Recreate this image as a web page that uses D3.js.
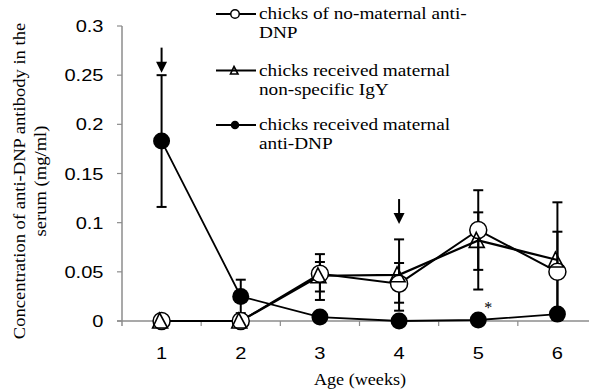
<!DOCTYPE html>
<html><head><meta charset="utf-8">
<script src="https://cdn.jsdelivr.net/npm/d3@7"></script>
<style>html,body{margin:0;padding:0;background:#fff;}svg{display:block;}</style>
</head><body>
<svg id="chart" width="589" height="389"></svg>
<script>
const weeks = ["1","2","3","4","5","6"];
const yTicks = [0,0.05,0.1,0.15,0.2,0.25,0.3];
const yTickLabels = ["0","0.05","0.1","0.15","0.2","0.25","0.3"];
const noMaternal   = [0,0,0.048,0.038,0.0925,0.050];
const noMaternalLo = [0,0,0.0214,0.0186,0.052,0.009];
const noMaternalHi = [0,0,0.068,0.059,0.133,0.0908];
const nonSpecific   = [0,0,0.046,0.047,0.082,0.062];
const nonSpecificLo = [0,0,0.030,0.0105,0.032,0.004];
const nonSpecificHi = [0,0,0.060,0.083,0.1105,0.1207];
const antiDNP   = [0.183,0.025,0.004,0,0.001,0.007];
const antiDNPLo = [0.116,0.008,0.002,0,0,0.003];
const antiDNPHi = [0.25,0.042,0.006,0.003,0.002,0.010];
const arrowWeeks = ["1","4"];
const arrowValues = [0.278,0.124];
const legendLabels = [["chicks of no-maternal anti-","DNP"],["chicks received maternal","non-specific IgY"],["chicks received maternal","anti-DNP"]];

const svg = d3.select("#chart");
const x = d3.scalePoint().domain(weeks).range([122,597]).padding(0.5);
const y = d3.scaleLinear().domain([0,0.3]).range([321,26]);
const SANS = "'Liberation Sans', Arial, sans-serif";
const SERIF = "'Liberation Serif', 'Times New Roman', serif";

function stext(parent, px, py, str, o) {
  const g = parent.append("g").attr("transform", `translate(${px},${py}) ${o.rot?`rotate(${o.rot})`:""} scale(${o.sx||1},${o.sy||1})`);
  return g.append("text").attr("x",0).attr("y",0)
    .attr("font-family", o.font).attr("font-size", o.size).attr("font-weight","normal")
    .attr("text-anchor", o.anchor||"start").attr("fill","#000").text(str);
}

const grey = "#8c8c8c";
svg.append("line").attr("x1",122).attr("x2",122).attr("y1",y(0.3)).attr("y2",326).attr("stroke",grey).attr("stroke-width",1.5);
svg.append("line").attr("x1",117).attr("x2",589).attr("y1",y(0)).attr("y2",y(0)).attr("stroke",grey).attr("stroke-width",1.5);
yTicks.forEach((t,i)=>{
  svg.append("line").attr("x1",117).attr("x2",122).attr("y1",y(t)).attr("y2",y(t)).attr("stroke",grey).attr("stroke-width",1.2);
  stext(svg,103.5,y(t)+6,yTickLabels[i],{font:SANS,size:17,anchor:"end",sx:1.18});
});
const bw = x.step();
weeks.forEach((w,i)=>{
  if(i>0) svg.append("line").attr("x1",x(w)-bw/2).attr("x2",x(w)-bw/2).attr("y1",y(0)).attr("y2",326).attr("stroke",grey).attr("stroke-width",1.2);
  stext(svg,x(w),358.5,w,{font:SANS,size:17,anchor:"middle",sx:1.18});
});
stext(svg,360,385,"Age (weeks)",{font:SERIF,size:16.5,anchor:"middle",sx:1.1});
stext(svg,25,181,"Concentration of anti-DNP antibody in the",{font:SERIF,size:17.2,anchor:"middle",rot:-90,sx:1.08});
stext(svg,46,181,"serum (mg/ml)",{font:SERIF,size:17.2,anchor:"middle",rot:-90,sx:1.08});

const series = [
  {v:noMaternal, lo:noMaternalLo, hi:noMaternalHi, kind:"open", lw:2},
  {v:nonSpecific, lo:nonSpecificLo, hi:nonSpecificHi, kind:"tri", lw:2.2},
  {v:antiDNP, lo:antiDNPLo, hi:antiDNPHi, kind:"filled", lw:1.8}
];
const line = d3.line().x((d,i)=>x(weeks[i])).y(d=>y(d));
series.forEach(s=>{
  svg.append("path").attr("d",line(s.v)).attr("fill","none").attr("stroke","#000").attr("stroke-width",s.lw);
});
series.forEach(s=>{
  weeks.forEach((w,i)=>{
    if(s.hi[i]-s.lo[i] <= 0) return;
    const cx = x(w);
    svg.append("line").attr("x1",cx).attr("x2",cx).attr("y1",y(s.lo[i])).attr("y2",y(s.hi[i])).attr("stroke","#000").attr("stroke-width",2);
    [s.lo[i],s.hi[i]].forEach(v=>{
      svg.append("line").attr("x1",cx-5).attr("x2",cx+5).attr("y1",y(v)).attr("y2",y(v)).attr("stroke","#000").attr("stroke-width",2);
    });
  });
});
const triPath = (sc)=>`M${-2*sc},${-8*sc} L${6*sc},${7*sc} L${-9*sc},${7*sc} Z`;
function marker(g, kind, cx, cy, sc){
  if(kind==="open") g.append("circle").attr("cx",cx).attr("cy",cy).attr("r",8.5*sc).attr("fill","#fff").attr("stroke","#000").attr("stroke-width",1.5);
  else if(kind==="filled") g.append("circle").attr("cx",cx).attr("cy",cy).attr("r",8.5*sc).attr("fill","#000");
  else g.append("path").attr("d",triPath(sc)).attr("transform",`translate(${cx},${cy})`).attr("fill","none").attr("stroke","#000").attr("stroke-width",1.6);
}
series.forEach(s=>{
  s.v.forEach((v,i)=>marker(svg,s.kind,x(weeks[i]),y(v),1));
});
arrowWeeks.forEach((w,i)=>{
  const cx = x(w), top = y(arrowValues[i]);
  svg.append("line").attr("x1",cx).attr("x2",cx).attr("y1",top).attr("y2",top+16).attr("stroke","#000").attr("stroke-width",2);
  svg.append("path").attr("d",`M${cx-5.5},${top+14} L${cx+5.5},${top+14} L${cx},${top+25} Z`).attr("fill","#000");
});
stext(svg,x("5")+10,313,"*",{font:SERIF,size:16,anchor:"middle"});

const legY = [14,70.5,125];
series.forEach((s,i)=>{
  svg.append("line").attr("x1",216).attr("x2",256).attr("y1",legY[i]).attr("y2",legY[i]).attr("stroke","#000").attr("stroke-width",s.lw);
  marker(svg,s.kind,235,legY[i],0.5);
  stext(svg,259,legY[i]+5,legendLabels[i][0],{font:SERIF,size:17.5,sx:1.1});
  stext(svg,259,legY[i]+24,legendLabels[i][1],{font:SERIF,size:17.5,sx:1.1});
});
</script>
</body></html>
